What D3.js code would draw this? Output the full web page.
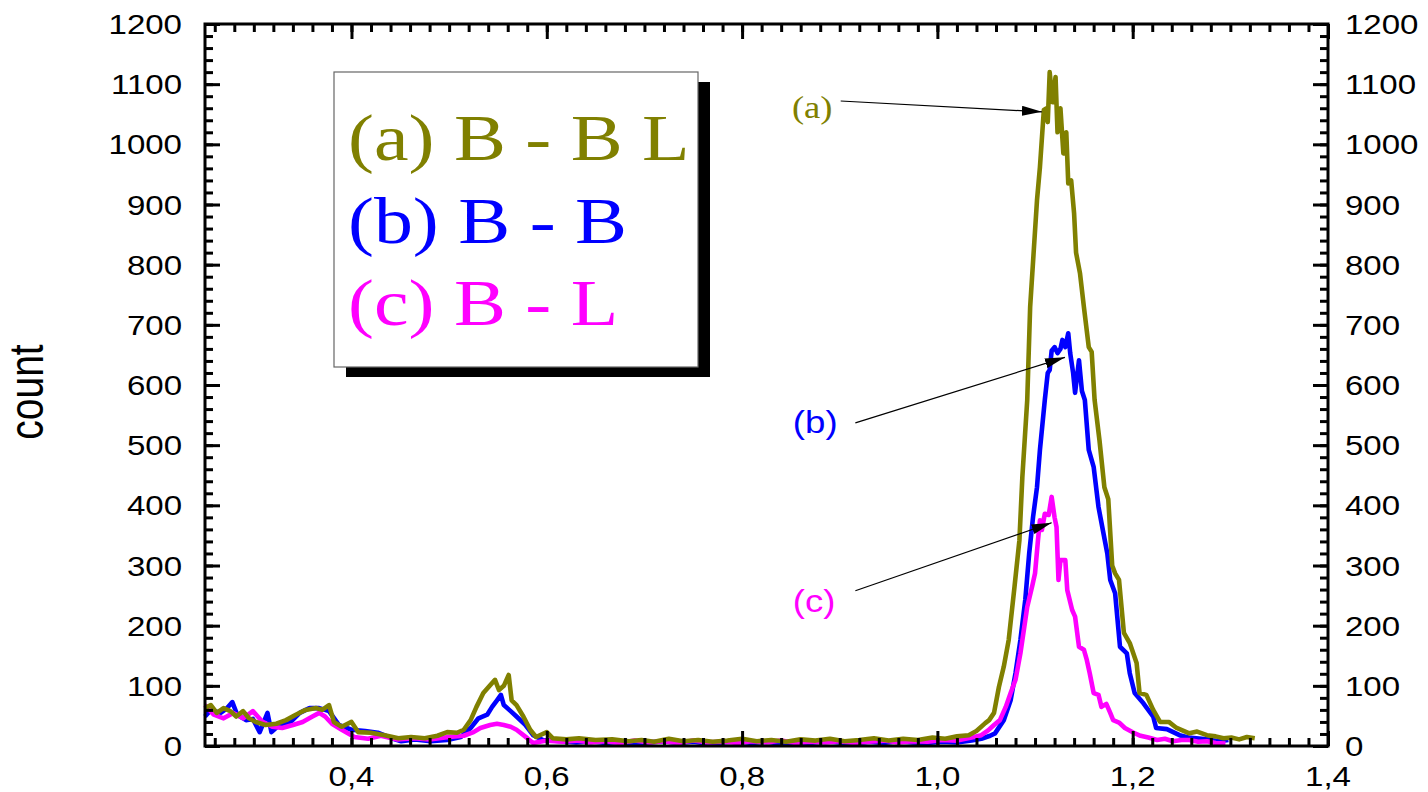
<!DOCTYPE html>
<html>
<head>
<meta charset="utf-8">
<script src="https://cdn.jsdelivr.net/npm/d3@7/dist/d3.min.js"></script>
<style>
	body { margin:0; background:#fff; }
	svg { display:block; }
</style>
</head>
<body>
<div id="container"></div>
<script>
// series (a) B - B L
var xA = [0.250,0.256,0.262,0.269,0.276,0.282,0.289,0.295,0.302,0.312,0.323,0.333,0.343,0.353,0.364,0.370,0.377,0.382,0.390,0.400,0.407,0.420,0.434,0.448,0.461,0.475,0.488,0.498,0.508,0.515,0.522,0.528,0.535,0.542,0.547,0.551,0.556,0.561,0.564,0.569,0.576,0.583,0.589,0.600,0.606,0.620,0.633,0.650,0.667,0.684,0.697,0.710,0.725,0.740,0.755,0.770,0.785,0.800,0.815,0.830,0.845,0.860,0.875,0.890,0.905,0.920,0.935,0.950,0.965,0.980,0.995,1.008,1.020,1.032,1.040,1.049,1.053,1.058,1.063,1.068,1.073,1.079,1.084,1.087,1.092,1.095,1.102,1.105,1.109,1.112,1.113,1.115,1.118,1.121,1.123,1.126,1.129,1.132,1.134,1.137,1.140,1.142,1.146,1.150,1.155,1.158,1.161,1.166,1.171,1.175,1.179,1.182,1.186,1.191,1.197,1.204,1.207,1.214,1.221,1.228,1.237,1.245,1.258,1.266,1.276,1.285,1.293,1.301,1.309,1.317,1.325]
var yA = [63,68,55,63,58,49,58,46,40,35,37,43,52,60,63,60,68,40,32,40,23,22,18,13,15,13,17,23,22,27,43,65,88,101,110,93,100,118,76,68,49,27,15,23,13,11,13,10,11,8,10,7,12,8,10,7,9,12,8,10,7,11,9,12,8,10,13,9,12,10,14,12,16,18,25,38,43,55,98,132,176,265,342,447,575,730,907,962,1057,1060,1037,1120,1070,1112,1020,1060,985,1020,935,940,885,820,786,730,663,655,575,508,430,410,300,287,276,188,171,138,88,85,60,40,40,30,21,24,18,16,13,14,11,15,13]

// series (b) B - B
var xB = [0.250,0.256,0.266,0.272,0.278,0.283,0.292,0.299,0.306,0.314,0.318,0.326,0.336,0.347,0.357,0.367,0.377,0.387,0.400,0.414,0.427,0.441,0.451,0.465,0.481,0.498,0.512,0.522,0.530,0.539,0.544,0.549,0.553,0.556,0.563,0.569,0.578,0.586,0.596,0.616,0.630,0.645,0.660,0.675,0.690,0.705,0.720,0.735,0.750,0.765,0.780,0.795,0.810,0.825,0.840,0.855,0.870,0.885,0.900,0.915,0.930,0.945,0.960,0.975,0.990,1.005,1.020,1.035,1.045,1.054,1.059,1.068,1.075,1.080,1.085,1.090,1.094,1.098,1.102,1.105,1.110,1.113,1.115,1.117,1.120,1.123,1.126,1.128,1.131,1.134,1.136,1.139,1.141,1.145,1.148,1.151,1.155,1.160,1.165,1.170,1.174,1.177,1.182,1.187,1.194,1.197,1.202,1.211,1.221,1.224,1.235,1.248,1.257,1.265,1.276,1.288,1.298]
var yB = [49,60,55,62,73,52,43,45,23,55,23,35,37,55,63,63,58,35,27,25,22,13,8,11,8,10,15,30,46,52,65,76,85,68,58,49,35,18,10,8,6,8,5,7,4,6,8,5,7,4,6,8,5,7,4,6,5,8,6,4,7,5,8,6,5,7,6,9,12,17,21,43,76,121,176,243,320,381,430,492,575,620,625,657,663,653,660,675,663,686,653,620,587,641,590,575,492,464,397,354,320,276,254,165,154,121,88,71,49,30,28,18,14,13,11,8,10]

// series (c) B - L
var xC = [0.250,0.259,0.269,0.279,0.289,0.299,0.309,0.319,0.329,0.340,0.350,0.360,0.367,0.373,0.380,0.390,0.403,0.417,0.430,0.447,0.464,0.480,0.500,0.515,0.525,0.532,0.542,0.549,0.556,0.563,0.569,0.580,0.586,0.600,0.616,0.630,0.645,0.660,0.675,0.690,0.705,0.720,0.735,0.750,0.765,0.780,0.795,0.810,0.825,0.840,0.855,0.870,0.885,0.900,0.915,0.930,0.945,0.960,0.975,0.990,1.005,1.020,1.035,1.045,1.052,1.058,1.064,1.070,1.075,1.080,1.085,1.089,1.092,1.097,1.100,1.103,1.105,1.107,1.110,1.114,1.117,1.120,1.122,1.124,1.126,1.131,1.133,1.138,1.141,1.145,1.150,1.153,1.156,1.160,1.165,1.168,1.173,1.177,1.180,1.186,1.192,1.201,1.208,1.216,1.225,1.233,1.241,1.250,1.258,1.267,1.276,1.285,1.295]
var yC = [68,52,46,55,46,58,40,32,30,35,40,49,55,49,37,27,15,12,17,11,13,11,15,17,23,30,35,37,35,32,27,13,5,9,7,9,6,8,5,9,6,8,5,9,6,7,5,8,6,9,5,7,6,8,5,7,9,6,8,7,10,9,14,18,26,35,43,65,88,110,154,198,231,265,287,342,375,359,386,384,414,380,364,276,309,309,259,226,215,165,160,143,121,88,85,65,70,55,43,39,30,22,17,14,10,12,8,10,10,7,8,5,4]

var seriesNames = ['(a) B - B L', '(b) B - B', '(c) B - L']
var seriesColors = ['#808000', '#0000ff', '#ff00ff']

var xTicks = [0.4, 0.6, 0.8, 1.0, 1.2, 1.4]
var yTicks = [0, 100, 200, 300, 400, 500, 600, 700, 800, 900, 1000, 1100, 1200]

// annotation labels: [label, text x, text y, arrow start x, y, arrow tip x, y] in data units
var notes = [
	['(a)', 0.851, 1044, 0.901, 1072, 1.107, 1054],
	['(b)', 0.852, 520, 0.916, 537, 1.1306, 646],
	['(c)', 0.852, 223, 0.916, 258, 1.117, 371]
]

var W = 1428, H = 792
var plotLeft = 205, plotRight = 1328, plotTop = 24, plotBottom = 746
var stretch = 1.18

var svg = d3.select('#container').append('svg').attr('width', W).attr('height', H)

var x = d3.scaleLinear().domain([0.25, 1.4]).range([plotLeft, plotRight])
var y = d3.scaleLinear().domain([0, 1200]).range([plotBottom, plotTop])

// text that is a bit wider than the font, like the original export
var addText = function(g, px, py, str, anchor, font, size, color) {
	return g.append('text')
		.attr('transform', 'translate(' + px + ',' + py + ') scale(' + stretch + ',1)')
		.attr('text-anchor', anchor)
		.style('font-family', font)
		.style('font-size', size + 'px')
		.attr('fill', color)
		.text(str)
}

// data lines
var line = d3.line().x(function(d) { return x(d[0]) }).y(function(d) { return y(d[1]) })
var zipped = [[xB, yB, 1], [xC, yC, 2], [xA, yA, 0]]
zipped.map(function(s) {
	var pts = s[0].map(function(v, i) { return [v, s[1][i]] })
	svg.append('path').datum(pts)
		.attr('d', line)
		.attr('fill', 'none')
		.attr('stroke', seriesColors[s[2]])
		.attr('stroke-width', 4.6)
		.attr('stroke-linejoin', 'round')
})

// axes, ticks inside on all four sides
var xMinor = d3.range(0.26, 1.4001, 0.02)
var yMinor = d3.range(0, 1201, 20)
var axisG = svg.append('g')

var bottomAxis = d3.axisBottom(x).tickValues(xMinor).tickSize(-8).tickFormat('')
var topAxis = d3.axisTop(x).tickValues(xMinor).tickSize(-8).tickFormat('')
var leftAxis = d3.axisLeft(y).tickValues(yMinor).tickSize(-8).tickFormat('')
var rightAxis = d3.axisRight(y).tickValues(yMinor).tickSize(-8).tickFormat('')

axisG.append('g').attr('transform', 'translate(0,' + plotBottom + ')').call(bottomAxis)
axisG.append('g').attr('transform', 'translate(0,' + plotTop + ')').call(topAxis)
axisG.append('g').attr('transform', 'translate(' + plotLeft + ',0)').call(leftAxis)
axisG.append('g').attr('transform', 'translate(' + plotRight + ',0)').call(rightAxis)

axisG.append('g').attr('transform', 'translate(0,' + plotBottom + ')').call(d3.axisBottom(x).tickValues(xTicks).tickSize(-15).tickFormat(''))
axisG.append('g').attr('transform', 'translate(0,' + plotTop + ')').call(d3.axisTop(x).tickValues(xTicks).tickSize(-15).tickFormat(''))
axisG.append('g').attr('transform', 'translate(' + plotLeft + ',0)').call(d3.axisLeft(y).tickValues(yTicks).tickSize(-15).tickFormat(''))
axisG.append('g').attr('transform', 'translate(' + plotRight + ',0)').call(d3.axisRight(y).tickValues(yTicks).tickSize(-15).tickFormat(''))

axisG.selectAll('.domain').remove()
axisG.selectAll('line').attr('stroke', '#000').attr('stroke-width', 3)

svg.append('rect')
	.attr('x', plotLeft).attr('y', plotTop)
	.attr('width', plotRight - plotLeft).attr('height', plotBottom - plotTop)
	.attr('fill', 'none').attr('stroke', '#000').attr('stroke-width', 3)

// tick labels
var sans = 'Liberation Sans, Arial, sans-serif'
var serif = 'Liberation Serif, Times New Roman, serif'
var labelG = svg.append('g')
xTicks.map(function(t) {
	addText(labelG, x(t), 786, d3.format('.1f')(t).replace('.', ','), 'middle', sans, 28, '#000')
})
yTicks.map(function(t) {
	addText(labelG, 182, y(t) + 10, t, 'end', sans, 28, '#000')
	addText(labelG, 1345, y(t) + 10, t, 'start', sans, 28, '#000')
})

labelG.append('text')
	.attr('transform', 'translate(43,392) scale(1.23,1) rotate(-90)')
	.attr('text-anchor', 'middle')
	.style('font-family', sans)
	.style('font-size', '39px')
	.text('count')

// legend with drop shadow
var legend = svg.append('g')
legend.append('rect').attr('x', 346).attr('y', 82).attr('width', 364).attr('height', 295).attr('fill', '#000')
legend.append('rect').attr('x', 334).attr('y', 72).attr('width', 364).attr('height', 295)
	.attr('fill', '#fff').attr('stroke', '#666').attr('stroke-width', 1.2)
seriesNames.map(function(name, i) {
	addText(legend, 348, 160 + i * 82.5, name, 'start', serif, 66, seriesColors[i])
})

// arrows pointing to the peaks
svg.append('defs').append('marker')
	.attr('id', 'head')
	.attr('viewBox', '0 0 20 10')
	.attr('refX', 20).attr('refY', 5)
	.attr('markerWidth', 20).attr('markerHeight', 10)
	.attr('markerUnits', 'userSpaceOnUse')
	.attr('orient', 'auto')
	.append('path').attr('d', 'M0,0 L20,5 L0,10 Z').attr('fill', '#000')

notes.map(function(n, i) {
	svg.append('line')
		.attr('x1', x(n[3])).attr('y1', y(n[4]))
		.attr('x2', x(n[5])).attr('y2', y(n[6]))
		.attr('stroke', '#000').attr('stroke-width', 1.2)
		.attr('marker-end', 'url(#head)')
	addText(svg, x(n[1]), y(n[2]), n[0], 'start', i == 0 ? serif : sans, i == 0 ? 31 : 31, seriesColors[i])
})
</script>
</body>
</html>
